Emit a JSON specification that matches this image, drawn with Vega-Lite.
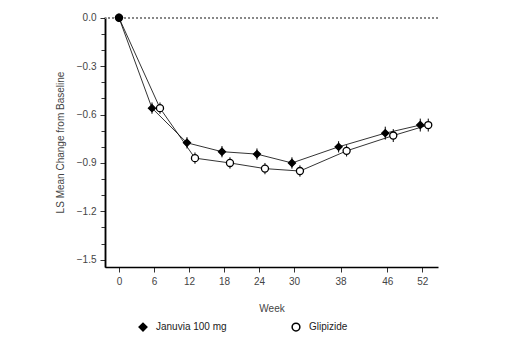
{
  "$schema": "https://vega.github.io/schema/vega-lite/v6.json",
  "width": 333,
  "height": 250,
  "autosize": {"type": "none"},
  "padding": {"left": 105, "top": 17, "right": 68, "bottom": 92},
  "background": "white",
  "config": {
    "font": "Liberation Sans",
    "view": {"stroke": null},
    "axis": {
      "grid": false,
      "domainColor": "black",
      "domainWidth": 1.5,
      "tickColor": "#333",
      "tickSize": 5,
      "labelColor": "#444",
      "titleColor": "#444",
      "labelFontSize": 10,
      "titleFontSize": 10,
      "titleFontWeight": "normal",
      "labelPadding": 4
    },
    "legend": {
      "labelFontSize": 10,
      "labelColor": "#222"
    }
  },
  "data": {
    "values": [
      {"treatment": "Januvia 100 mg", "week": 0, "mean": 0, "lo": 0, "hi": 0},
      {"treatment": "Januvia 100 mg", "week": 6, "mean": -0.56, "lo": -0.595, "hi": -0.525},
      {"treatment": "Januvia 100 mg", "week": 12, "mean": -0.775, "lo": -0.81, "hi": -0.74},
      {"treatment": "Januvia 100 mg", "week": 18, "mean": -0.83, "lo": -0.865, "hi": -0.795},
      {"treatment": "Januvia 100 mg", "week": 24, "mean": -0.845, "lo": -0.88, "hi": -0.81},
      {"treatment": "Januvia 100 mg", "week": 30, "mean": -0.9, "lo": -0.935, "hi": -0.865},
      {"treatment": "Januvia 100 mg", "week": 38, "mean": -0.8, "lo": -0.835, "hi": -0.765},
      {"treatment": "Januvia 100 mg", "week": 46, "mean": -0.715, "lo": -0.755, "hi": -0.675},
      {"treatment": "Januvia 100 mg", "week": 52, "mean": -0.665, "lo": -0.705, "hi": -0.625},
      {"treatment": "Glipizide", "week": 0, "mean": 0, "lo": 0, "hi": 0},
      {"treatment": "Glipizide", "week": 6, "mean": -0.56, "lo": -0.595, "hi": -0.525},
      {"treatment": "Glipizide", "week": 12, "mean": -0.87, "lo": -0.905, "hi": -0.835},
      {"treatment": "Glipizide", "week": 18, "mean": -0.9, "lo": -0.935, "hi": -0.865},
      {"treatment": "Glipizide", "week": 24, "mean": -0.935, "lo": -0.97, "hi": -0.9},
      {"treatment": "Glipizide", "week": 30, "mean": -0.95, "lo": -0.985, "hi": -0.915},
      {"treatment": "Glipizide", "week": 38, "mean": -0.825, "lo": -0.86, "hi": -0.79},
      {"treatment": "Glipizide", "week": 46, "mean": -0.73, "lo": -0.77, "hi": -0.69},
      {"treatment": "Glipizide", "week": 52, "mean": -0.665, "lo": -0.705, "hi": -0.625}
    ]
  },
  "resolve": {"axis": {"y": "independent"}},
  "layer": [
    {
      "mark": {"type": "rule", "color": "#888", "strokeDash": [1.5, 2.5], "strokeWidth": 1},
      "encoding": {"y": {"datum": 0, "type": "quantitative", "axis": null}}
    },
    {
      "mark": {"type": "line", "color": "black", "strokeWidth": 0.8,
        "xOffset": {"expr": "datum.week == 0 ? 0 : (datum.treatment == 'Glipizide' ? 6 : -2)"}},
      "encoding": {
        "x": {"field": "week", "type": "quantitative",
          "scale": {"domain": [-2.4, 54.7], "nice": false, "zero": false},
          "axis": {"values": [0, 6, 12, 18, 24, 30, 38, 46, 52], "title": "Week", "titleY": 41, "titleBaseline": "middle"}},
        "y": {"field": "mean", "type": "quantitative",
          "scale": {"domain": [-1.545, 0.005], "nice": false, "zero": false},
          "axis": {
            "orient": "left",
            "values": [-1.5, -1.2, -0.9, -0.6, -0.3, 0],
            "format": ".1f",
            "title": "LS Mean Change from Baseline",
            "titleX": -45, "titleY": 125, "titleBaseline": "middle"
          }},
        "detail": {"field": "treatment"}
      }
    },
    {
      "mark": {"type": "rule", "color": "black", "strokeWidth": 1,
        "xOffset": {"expr": "datum.week == 0 ? 0 : (datum.treatment == 'Glipizide' ? 6 : -2)"}},
      "encoding": {
        "x": {"field": "week", "type": "quantitative"},
        "y": {"field": "lo", "type": "quantitative",
          "axis": {
            "orient": "left",
            "values": [-1.4, -1.3, -1.1, -1.0, -0.8, -0.7, -0.5, -0.4, -0.2, -0.1],
            "labels": false,
            "title": null,
            "tickSize": 4
          }},
        "y2": {"field": "hi"}
      }
    },
    {
      "mark": {"type": "point", "stroke": "black", "strokeWidth": 1.3, "opacity": 1, "size": 50,
        "xOffset": {"expr": "datum.week == 0 ? 0 : (datum.treatment == 'Glipizide' ? 6 : -2)"}},
      "encoding": {
        "x": {"field": "week", "type": "quantitative"},
        "y": {"field": "mean", "type": "quantitative", "axis": null},
        "shape": {"field": "treatment", "type": "nominal",
          "scale": {"domain": ["Januvia 100 mg", "Glipizide"], "range": ["diamond", "circle"]},
          "legend": {"title": null, "orient": "none", "direction": "horizontal", "legendX": 33, "legendY": 305, "columnPadding": 62, "labelOffset": 8, "symbolSize": 60,
            "encode": {"symbols": {"update": {"stroke": {"value": "black"}, "strokeWidth": {"value": 1.3}}}}}},
        "fill": {"condition": {"test": "datum.week == 0", "value": "black"},
          "field": "treatment", "type": "nominal",
          "scale": {"domain": ["Januvia 100 mg", "Glipizide"], "range": ["black", "white"]},
          "legend": {"title": null, "orient": "none", "direction": "horizontal", "legendX": 33, "legendY": 305, "columnPadding": 62, "labelOffset": 8, "symbolSize": 60,
            "encode": {"symbols": {"update": {"stroke": {"value": "black"}, "strokeWidth": {"value": 1.3}}}}}},
        "order": {"field": "treatment", "sort": "ascending"}
      }
    }
  ]
}
